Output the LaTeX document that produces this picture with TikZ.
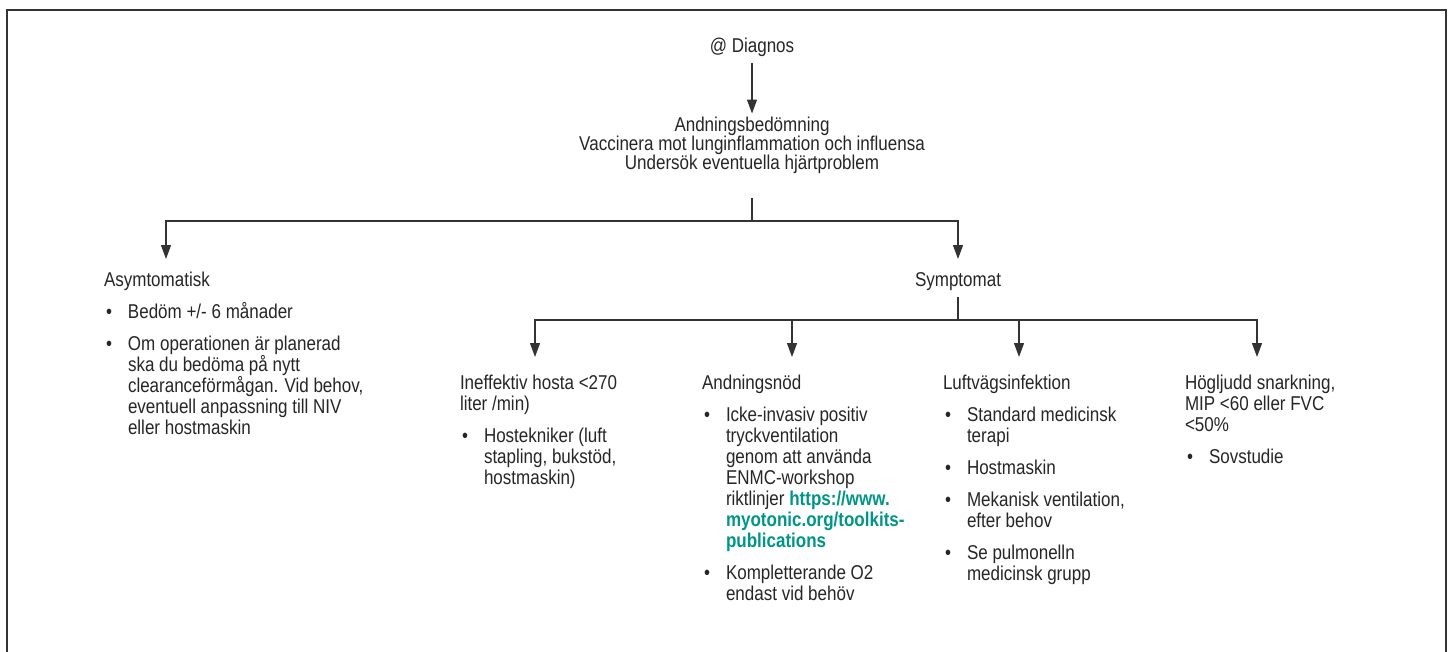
\documentclass[tikz,border=0pt]{standalone}
\usepackage{fontspec}
\setmainfont{Liberation Sans}[FakeStretch=0.85]
\usetikzlibrary{positioning,arrows.meta}
\definecolor{linkteal}{RGB}{0,150,135}
\newcommand*{\bl}{\makebox[24pt][l]{\hspace{2pt}\textbullet}}
\newcommand*{\ind}{\hspace*{24pt}}
\newcommand*{\lnk}[1]{{\bfseries\color{linkteal}#1}}

\begin{document}
\begin{tikzpicture}[x=1pt,y=-1pt,
  txt/.style={font=\fontsize{20}{21}\selectfont,text=black!85,inner sep=0pt,outer sep=0pt},
  blk/.style={txt,align=left,anchor=base west},
  conn/.style={draw=black!80,line width=1.2pt},
  arr/.style={conn,-{Triangle[length=14pt,width=10pt]}}]
\useasboundingbox (0,0) rectangle (1450,651);
\fill[white] (0,0) rectangle (1450,651);
% Frame
\draw[black!80,line width=1.8pt] (7,680) -- (7,10) -- (1446,10) -- (1446,680);
% Top of the chart (multi-line nodes sit on their last baseline)
\node[txt,anchor=base] (diag) at (752,52) {@ Diagnos};
\node[txt,align=center,anchor=base] (resp) at (752,169)
  {Andningsbedömning\\[-2pt] Vaccinera mot lunginflammation och influensa\\[-2pt] Undersök eventuella hjärtproblem};
\coordinate (j1) at (752,221);
\coordinate (tAsym) at (166,259);
\coordinate (tSymp) at (958,259);
% First level
\node[blk] (asym) at (104,434) {Asymtomatisk\\[11pt]
  \bl Bedöm +/- 6 månader\\[11pt]
  \bl Om operationen är planerad\\ \ind ska du bedöma på nytt\\
  \ind clearanceförmågan. Vid behov,\\ \ind eventuell anpassning till NIV\\
  \ind eller hostmaskin};
\node[txt,anchor=base] (symp) at (958,286) {Symptomat};
\coordinate (j2) at (958,320);
\coordinate (tIneff) at (535,357);
\coordinate (tNod) at (792,357);
\coordinate (tInf) at (1019,357);
\coordinate (tSnark) at (1257,357);
% Second level
\node[blk] (ineff) at (460,484) {Ineffektiv hosta <270\\ liter /min)\\[11pt]
  \bl Hostekniker (luft\\ \ind stapling, bukstöd,\\ \ind hostmaskin)};
\node[blk] (nod) at (702,600) {Andningsnöd\\[11pt]
  \bl Icke-invasiv positiv\\ \ind tryckventilation\\ \ind genom att använda\\
  \ind ENMC-workshop\\ \ind riktlinjer \lnk{https://www.}\\
  \ind \lnk{myotonic.org/toolkits-}\\ \ind \lnk{publications}\\[11pt]
  \bl Kompletterande O2\\ \ind endast vid behöv};
\node[blk] (inf) at (943,580) {Luftvägsinfektion\\[11pt]
  \bl Standard medicinsk\\ \ind terapi\\[11pt]
  \bl Hostmaskin\\[11pt]
  \bl Mekanisk ventilation,\\ \ind efter behov\\[11pt]
  \bl Se pulmonelln\\ \ind medicinsk grupp};
\node[blk] (snark) at (1185,463) {Högljudd snarkning,\\ MIP <60 eller FVC\\ <50\%\\[11pt]
  \bl Sovstudie};
% Connectors
\draw[arr,shorten <=7pt,shorten >=3pt] (diag) -- (resp);
\draw[conn,shorten <=25pt] (resp) -- (j1);
\draw[arr] (j1) -| (tAsym);
\draw[arr] (j1) -| (tSymp);
\draw[conn,shorten <=7pt] (symp) -- (j2);
\draw[arr] (j2) -| (tIneff);
\draw[arr] (j2) -| (tNod);
\draw[arr] (j2) -| (tInf);
\draw[arr] (j2) -| (tSnark);
\end{tikzpicture}
\end{document}
